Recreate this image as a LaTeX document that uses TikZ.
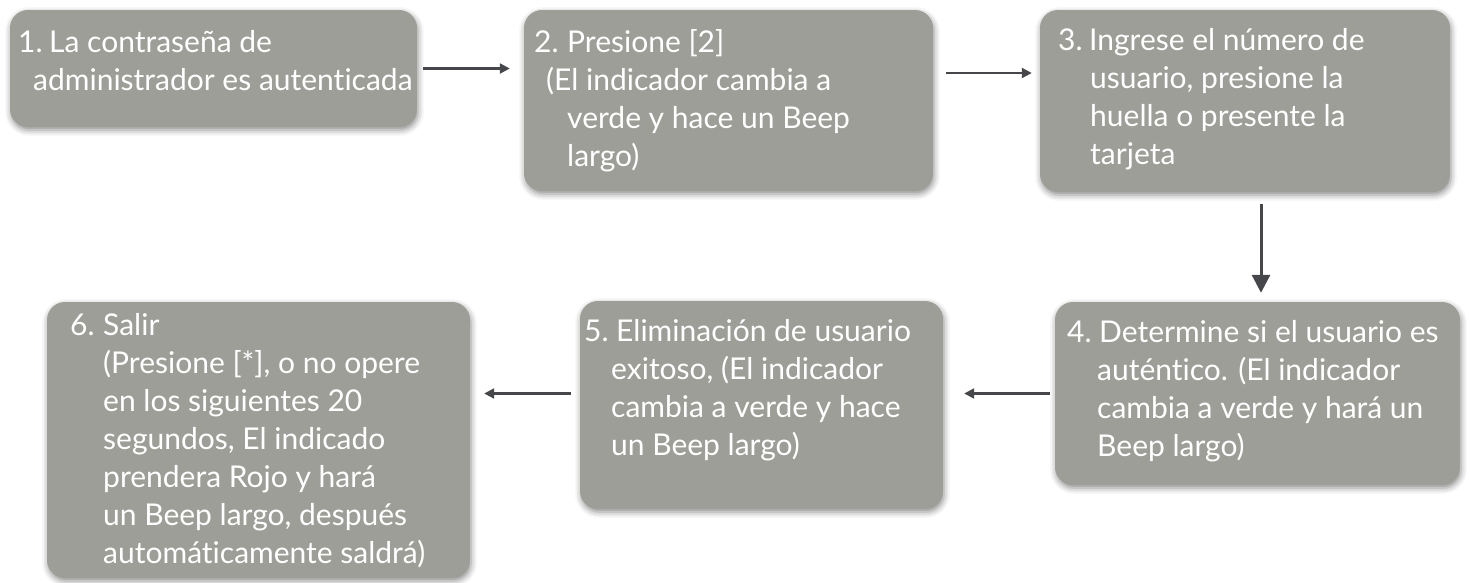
\documentclass[tikz,border=0pt]{standalone}
\usepackage{fontspec}
\setmainfont{Lato}[Ligatures=NoCommon]
\usetikzlibrary{shadows.blur,arrows.meta}
\definecolor{boxgray}{RGB}{158,158,152}
\definecolor{arrowgray}{RGB}{69,71,75}

\begin{document}
\begin{tikzpicture}[x=1pt,y=-1pt,
	panel/.style={fill=boxgray,rounded corners=18pt,inner sep=0pt,
		blur shadow={shadow xshift=1pt,shadow yshift=-3pt,shadow blur radius=6pt,shadow opacity=45}},
	caption/.style={anchor=north west,inner sep=0pt,align=left,text=white,
		font=\fontsize{30}{38}\selectfont},
	flow/.style={draw=arrowgray,line width=2.2pt,-{Triangle[length=10pt,width=10pt]}},
	bigflow/.style={draw=arrowgray,line width=3pt,-{Triangle[length=18pt,width=18pt]}}]
		\useasboundingbox (0,0) rectangle (1470,582);
		
		% Upper row, left to right
		\node[panel,minimum width=407pt,minimum height=117pt] (Auth) at (213.5,68.5) {};
		\node[panel,minimum width=409pt,minimum height=181pt] (Press) at (728.5,100.5) {};
		\node[panel,minimum width=410pt,minimum height=182pt] (Enter) at (1245,101) {};
		% Lower row, right to left
		\node[panel,minimum width=405pt,minimum height=183pt] (Check) at (1257.5,393.5) {};
		\node[panel,minimum width=363pt,minimum height=208pt] (Delete) at (761.5,405) {};
		\node[panel,minimum width=423pt,minimum height=276pt] (Exit) at (258.5,440) {};
		
		\node[caption] (AuthText) at (18,25.4)
		{\strut\makebox[31pt][l]{1.}La contraseña de\\\hspace*{15pt}administrador es autenticada};
		\node[caption] (PressText) at (534,25.4)
		{\strut\makebox[33pt][l]{2.}Presione [2]\\\hspace*{12pt}(El indicador cambia a\\
			\hspace*{33pt}verde y hace un Beep\\\hspace*{33pt}largo)};
		\node[caption] (EnterText) at (1058,23.4)
		{\strut\makebox[31pt][l]{3.}Ingrese el número de\\\hspace*{32pt}usuario, presione la\\
			\hspace*{32pt}huella o presente la\\\hspace*{32pt}tarjeta};
		\node[caption] (CheckText) at (1067,315.4)
		{\strut\makebox[32pt][l]{4.}Determine si el usuario es\\\hspace*{30pt}auténtico. (El indicador\\
			\hspace*{30pt}cambia a verde y hará un\\\hspace*{30pt}Beep largo)};
		\node[caption] (DeleteText) at (584,314.4)
		{\strut\makebox[32pt][l]{5.}Eliminación de usuario\\\hspace*{27pt}exitoso, (El indicador\\
			\hspace*{27pt}cambia a verde y hace\\\hspace*{27pt}un Beep largo)};
		\node[caption] (ExitText) at (70,308.4)
		{\strut\makebox[33pt][l]{6.}Salir\\\hspace*{33pt}(Presione [*], o no opere\\
			\hspace*{33pt}en los siguientes 20\\\hspace*{33pt}segundos, El indicado\\
			\hspace*{33pt}prendera Rojo y hará\\\hspace*{33pt}un Beep largo, después\\
			\hspace*{33pt}automáticamente saldrá)};
		
		\draw[flow,shorten <=6pt,shorten >=14pt] (Auth.east) -- (Auth.east -| Press.west);
		\draw[flow,shorten <=13pt,shorten >=8pt] ([yshift=27.5pt]Press.east)
		-- ([yshift=27.5pt]Press.east -| Enter.west);
		\draw[bigflow,shorten <=12pt,shorten >=9pt] ([xshift=16pt]Enter.south)
		-- ([xshift=16pt]Enter.south |- Check.north);
		\draw[flow,shorten <=5pt,shorten >=21pt] (Check.west) -- (Check.west -| Delete.east);
		\draw[flow,shorten <=9pt,shorten >=14pt] (Delete.west |- Check.west)
		-- (Exit.east |- Check.west);
\end{tikzpicture}
\end{document}
